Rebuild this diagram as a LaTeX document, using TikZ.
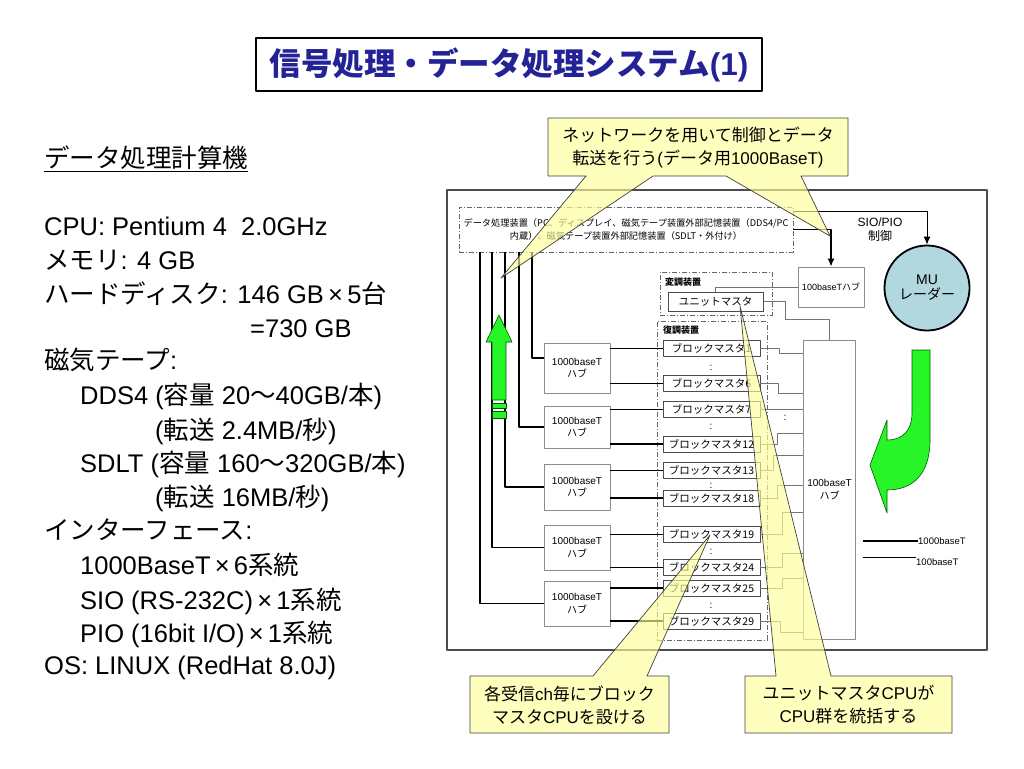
\documentclass[tikz,border=0pt]{standalone}
\usepackage{fontspec}
\setmainfont{Liberation Sans}
\newfontfamily\jpfont{Noto Sans CJK JP}
\newcommand{\jp}[1]{{\jpfont #1}}
\usetikzlibrary{arrows.meta}
\definecolor{titleblue}{RGB}{35,35,150}
\definecolor{callfill}{RGB}{255,255,153}
\definecolor{mublue}{RGB}{176,216,222}
\definecolor{arrgreen}{RGB}{40,245,40}
\begin{document}
\begin{tikzpicture}[x=1pt, y=-1pt, line join=round, >={Latex[length=8pt,width=7pt]},
	thickln/.style={line width=1.8pt},
	thinln/.style={draw=black!55, line width=0.6pt},
	hubbox/.style={draw=black!45, line width=0.6pt, minimum width=66pt, inner sep=0pt, align=center, font=\fontsize{10}{12.5}\selectfont},
	bmbox/.style={draw=black!70, line width=0.7pt, minimum width=97pt, minimum height=16pt, inner sep=0pt, font=\jpfont\fontsize{10.5}{12}\selectfont},
	unitbox/.style={draw=black!60, line width=0.6pt, dash pattern=on 5pt off 2pt on 1pt off 2pt, inner sep=0pt},
	spec/.style={anchor=base west, inner sep=0pt, font=\fontsize{25.5}{30}\selectfont},
	callout/.style={draw=black!75, line width=0.7pt, fill=callfill, fill opacity=0.65},
	calltext/.style={align=center, inner sep=0pt, font=\fontsize{17}{23}\selectfont},
	grarrow/.style={fill=arrgreen, draw=green!35!black, line width=0.6pt}]
	\useasboundingbox (0,0) rectangle (1024,768);
	% titre
	\node[draw, line width=2.5pt, minimum width=506pt, minimum height=53pt, inner sep=0pt, text=titleblue, font=\jpfont\bfseries\fontsize{31.5}{38}\selectfont] (title) at (509,64.5) {信号処理・データ処理システム{\rmfamily\bfseries(1)}};
	% texte de gauche
	\node[spec] (t0) at (44,167) {\jp{データ処理計算機}};
	\draw[line width=1pt] ([yshift=-4pt]t0.base west) -- ([yshift=-4pt]t0.base east);
	\node[spec] (t1) at (44,235) {CPU: Pentium 4\ \ 2.0GHz};
	\node[spec] (t2) at (44,269) {\jp{メモリ}: 4 GB};
	\node[spec] (t3) at (44,303) {\jp{ハードディスク}: 146 GB\,×\,5\jp{台}};
	\node[spec] (t4) at (250,337) {=730 GB};
	\node[spec] (t5) at (44,369) {\jp{磁気テープ}:};
	\node[spec] (t6) at (80,404) {DDS4 (\jp{容量} 20\jp{～}40GB/\jp{本})};
	\node[spec] (t7) at (155,439) {(\jp{転送} 2.4MB/\jp{秒})};
	\node[spec] (t8) at (80,472) {SDLT (\jp{容量} 160\jp{～}320GB/\jp{本})};
	\node[spec] (t9) at (155,506) {(\jp{転送} 16MB/\jp{秒})};
	\node[spec] (t10) at (44,539) {\jp{インターフェース}:};
	\node[spec] (t11) at (80,574) {1000BaseT\,×\,6\jp{系統}};
	\node[spec] (t12) at (80,609) {SIO (RS-232C)\,×\,1\jp{系統}};
	\node[spec] (t13) at (80,642) {PIO (16bit I/O)\,×\,1\jp{系統}};
	\node[spec] (t14) at (44,674) {OS: LINUX (RedHat 8.0J)};
	% cadre du schema
	\draw[draw=black!70, line width=1.2pt] (447,190) rectangle (987,650);
	\node[unitbox, minimum width=334pt, minimum height=45pt, align=center, font=\jpfont\fontsize{9.2}{13}\selectfont] (dp) at (626,229.5) {データ処理装置（PC、ディスプレイ、磁気テープ装置外部記憶装置（DDS4/PC\\内蔵）、磁気テープ装置外部記憶装置（SDLT・外付け）};
	\node[unitbox, minimum width=112pt, minimum height=43pt] (mod) at (716,293.5) {};
	\node[anchor=west, inner sep=0pt, font=\jpfont\bfseries\fontsize{9}{10}\selectfont] (modlbl) at (665,282) {変調装置};
	\node[bmbox, minimum width=95pt, minimum height=19pt] (um) at (715.5,301.5) {ユニットマスタ};
	\node[unitbox, minimum width=110pt, minimum height=319pt] (demod) at (712,480.5) {};
	\node[anchor=west, inner sep=0pt, font=\jpfont\bfseries\fontsize{9}{10}\selectfont] (demodlbl) at (663,330) {復調装置};
	\foreach \n/\y in {1/348.5, 6/383.5, 7/409.5, 12/444, 13/470.5, 18/498, 19/534.5, 24/567.5, 25/588, 29/621}
		\node[bmbox] (bm\n) at (711.5,\y) {ブロックマスタ\n};
	\foreach \y in {368,427,486,552,606}
		\node[inner sep=0pt, font=\fontsize{10}{10}\selectfont] (dot\y) at (711,\y) {:};
	\node[inner sep=0pt, font=\fontsize{10}{10}\selectfont] (dotr) at (785,418) {:};
	\foreach \n/\y/\h in {1/368/50, 2/427/42, 3/487/46, 4/547.5/45, 5/603.5/45}
		\node[hubbox, minimum height=\h pt] (hub\n) at (577,\y) {1000baseT\\\jp{ハブ}};
	\node[hubbox, minimum height=40pt, font=\fontsize{9}{11}\selectfont] (sh) at (831,287) {100baseT\jp{ハブ}};
	\node[hubbox, minimum width=52pt, minimum height=299pt] (bh) at (829.5,489.5) {100baseT\\\jp{ハブ}};
	\node[circle, draw, line width=1.8pt, fill=mublue, minimum size=85pt, inner sep=0pt, align=center, font=\fontsize{14}{15}\selectfont] (mu) at (927,288) {MU\\\jp{レーダー}};
	\node[align=center, inner sep=0pt, font=\fontsize{12}{14}\selectfont] (sio) at (880,230) {SIO/PIO\\\jp{制御}};
	% 1000baseT
	\foreach \h/\dx/\dy in {1/73/10, 2/60/0, 3/46/0, 4/33/0, 5/21/0}
		\draw[thickln] ([xshift=\dx pt]dp.south west) |- ([yshift=\dy pt]hub\h.west);
	\foreach \h/\a/\b in {1/1/6, 2/7/12, 3/13/18, 4/19/24, 5/25/29} {
		\draw[thickln] (hub\h.east |- bm\a.west) -- (bm\a.west);
		\draw[thickln] (hub\h.east |- bm\b.west) -- (bm\b.west);
	}
	\draw[thickln,->] (dp.east) -| (sh.north);
	\draw[line width=1pt,->] ([yshift=18.5pt]dp.east) -| (mu.north);
	% 100baseT
	\draw[thinln] (um.north) |- (sh.west);
	\draw[thinln] (um.east) -- ++(22,0) -- ++(0,17.5) -| (bh.north);
	\foreach \n/\xs/\yh in {1/779/353, 6/778/393, 7/775/409.5, 12/777/433, 13/773/455, 18/777/485, 19/782/512, 24/782/553, 25/782/578, 29/780/632} {
		\coordinate (s\n) at (\xs,\yh);
		\draw[thinln] (bm\n.east) -| (s\n) -- (s\n -| bh.west);
	}
	% fleches vertes
	\draw[grarrow] (492,400) -- (492,342) -- (486,342) -- (499,315) -- (512,342) -- (506,342) -- (506,400) -- cycle;
	\draw[grarrow] (492,403) rectangle (506,408);
	\draw[grarrow] (492,411) rectangle (506,418);
	\draw[grarrow] (912,350) -- (930,350) -- (930,440) .. controls (930,475) and (912,490) .. (887,490) -- (887,513) -- (870,465) -- (887,420) -- (887,440) .. controls (903,440) and (912,430) .. (912,413) -- cycle;
	% legende
	\node[anchor=west, inner sep=0pt, font=\fontsize{9.5}{11}\selectfont] (lgA) at (918,541) {1000baseT};
	\node[anchor=west, inner sep=0pt, font=\fontsize{9.5}{11}\selectfont] (lgB) at (916,562) {100baseT};
	\draw[thickln] (lgA.west) -- ++(-55,0);
	\draw[thinln, draw=black] ([yshift=5pt]lgB.west) -- ++(-53,0);
	% bulles
	\draw[callout] (548,118) -- (848,118) -- (848,176) -- (801,176) -- (830,236) -- (726,176) -- (653,176) -- (501,278) -- (586,176) -- (548,176) -- cycle;
	\node[calltext] (c1) at (698,148) {\jp{ネットワークを用いて制御とデータ}\\\jp{転送を行う}(\jp{データ用}1000BaseT)};
	\draw[callout] (470,676) -- (593,676) -- (710,535) -- (647,676) -- (669,676) -- (669,733) -- (470,733) -- cycle;
	\node[calltext] (c2) at (569.5,705) {\jp{各受信}ch\jp{毎にブロック}\\\jp{マスタ}CPU\jp{を設ける}};
	\draw[callout] (745,676) -- (776,676) -- (740,306) -- (831,676) -- (952,676) -- (952,733) -- (745,733) -- cycle;
	\node[calltext] (c3) at (848.5,705) {\jp{ユニットマスタ}CPU\jp{が}\\CPU\jp{群を統括する}};
\end{tikzpicture}
\end{document}
